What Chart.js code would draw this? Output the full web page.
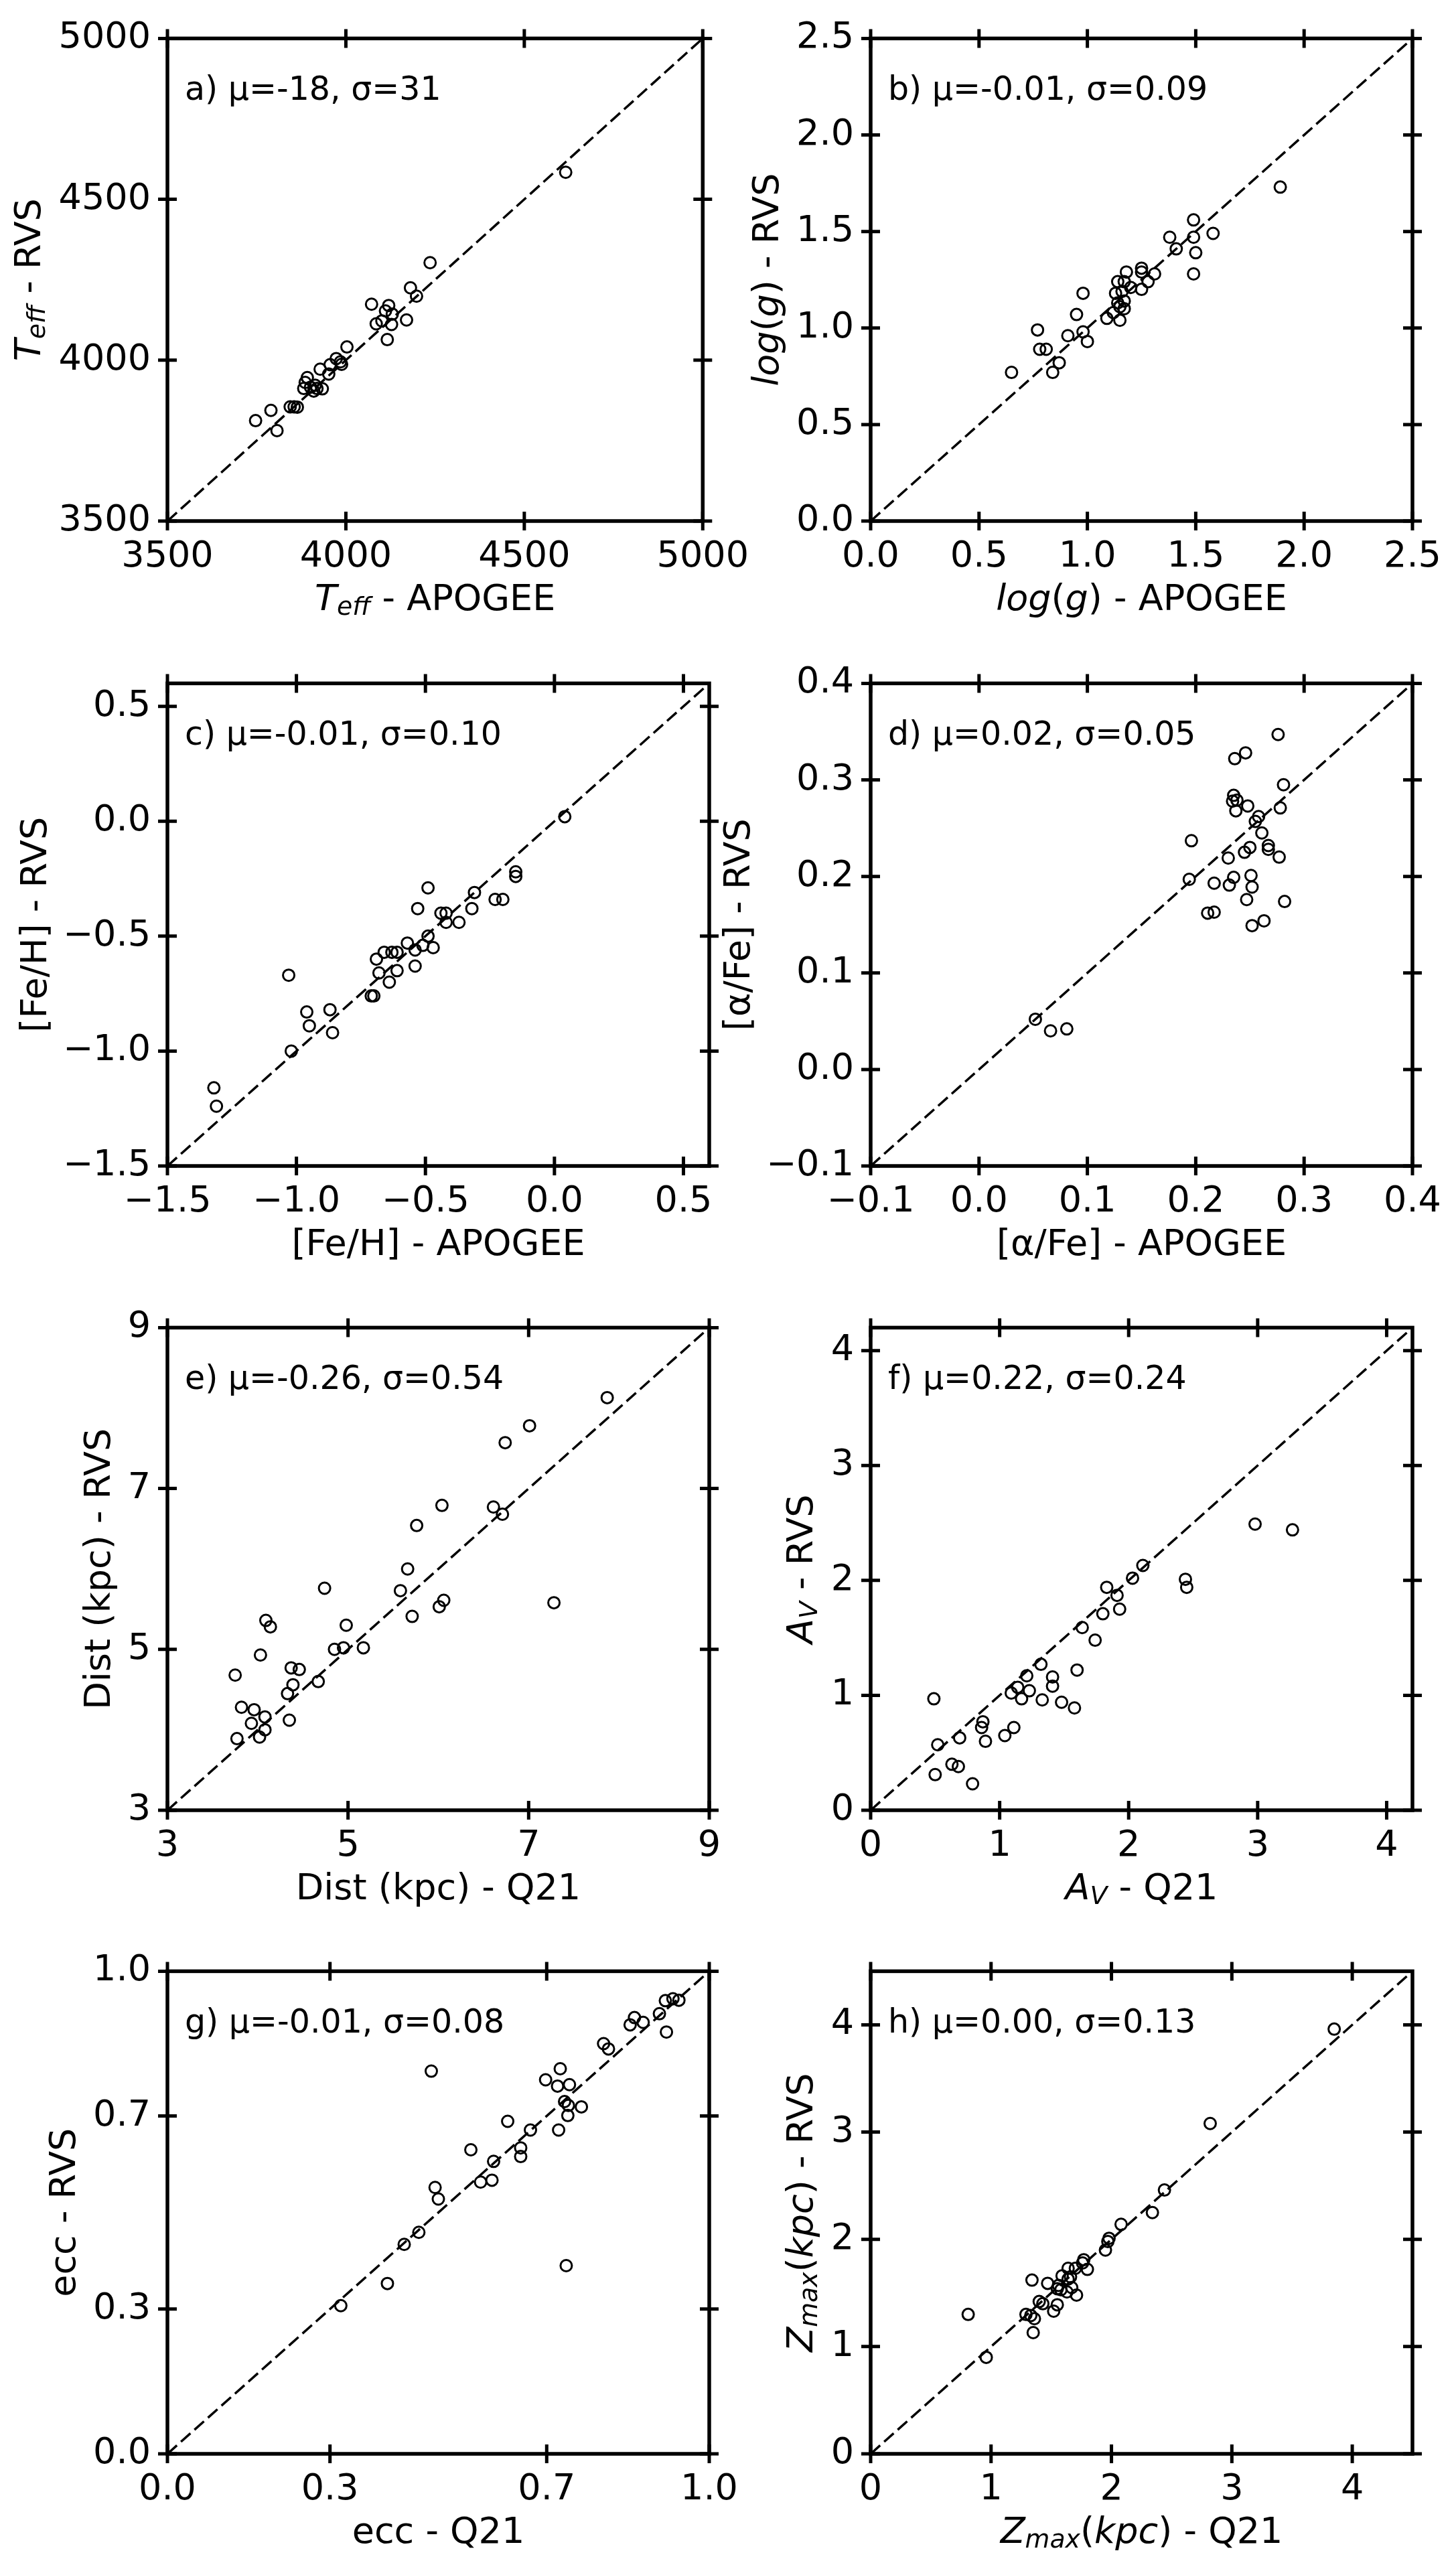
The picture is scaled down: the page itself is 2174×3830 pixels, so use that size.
<!DOCTYPE html>
<html>
<head>
<meta charset="utf-8">
<title>RVS vs APOGEE / Q21</title>
<script src="https://cdn.jsdelivr.net/npm/chart.js@4.4.0/dist/chart.umd.min.js"></script>
<style>
  body { margin: 0; background: #fff; width: 2174px; height: 3830px; position: relative; overflow: hidden; }
  canvas { position: absolute; }
</style>
</head>
<body>
<canvas id="p0"></canvas><canvas id="p1"></canvas>
<canvas id="p2"></canvas><canvas id="p3"></canvas>
<canvas id="p4"></canvas><canvas id="p5"></canvas>
<canvas id="p6"></canvas><canvas id="p7"></canvas>
<script>
// values
const teffApogee = [4616, 4236, 4181, 4198, 4072, 4120, 4111, 4130, 4170, 4101, 4085, 4128, 4116, 4003, 3928, 3956, 3973, 3985, 3988, 3952, 3892, 3886, 3882, 3901, 3914, 3919, 3934, 3910, 3844, 3855, 3864, 3790, 3747, 3807];
const teffRvs    = [4584, 4303, 4225, 4199, 4174, 4170, 4153, 4143, 4125, 4122, 4113, 4111, 4064, 4041, 3972, 3986, 4005, 3995, 3987, 3957, 3946, 3931, 3912, 3916, 3922, 3912, 3911, 3904, 3855, 3855, 3854, 3844, 3812, 3781];

const loggApogee = [1.89, 1.49, 1.49, 1.58, 1.38, 1.41, 1.50, 1.49, 1.25, 1.25, 1.31, 1.28, 1.25, 1.20, 1.18, 1.17, 1.14, 1.16, 1.13, 0.98, 1.17, 1.14, 1.15, 1.17, 1.12, 1.09, 1.15, 0.95, 0.77, 0.98, 0.91, 1.00, 0.78, 0.81, 0.87, 0.84, 0.65];
const loggRvs    = [1.73, 1.56, 1.47, 1.49, 1.47, 1.41, 1.39, 1.28, 1.31, 1.29, 1.28, 1.24, 1.20, 1.21, 1.29, 1.24, 1.24, 1.19, 1.18, 1.18, 1.14, 1.13, 1.11, 1.10, 1.08, 1.05, 1.04, 1.07, 0.99, 0.98, 0.96, 0.93, 0.89, 0.89, 0.82, 0.77, 0.77];

const fehApogee = [0.04, -0.15, -0.15, -0.49, -0.31, -0.23, -0.20, -0.32, -0.53, -0.44, -0.42, -0.42, -0.37, -0.49, -0.51, -0.57, -0.47, -0.54, -0.61, -0.63, -0.66, -0.69, -0.54, -0.61, -0.68, -0.64, -0.71, -0.70, -1.03, -0.96, -0.87, -0.95, -0.86, -1.02, -1.32, -1.31];
const fehRvs    = [0.02, -0.22, -0.24, -0.29, -0.31, -0.34, -0.34, -0.38, -0.38, -0.40, -0.40, -0.44, -0.44, -0.50, -0.54, -0.53, -0.55, -0.56, -0.57, -0.57, -0.57, -0.60, -0.63, -0.65, -0.66, -0.70, -0.76, -0.76, -0.67, -0.83, -0.82, -0.89, -0.92, -1.00, -1.16, -1.24];

const alphaApogee = [0.276, 0.246, 0.236, 0.281, 0.235, 0.234, 0.238, 0.248, 0.237, 0.278, 0.258, 0.255, 0.261, 0.196, 0.250, 0.267, 0.267, 0.245, 0.230, 0.277, 0.251, 0.235, 0.194, 0.217, 0.231, 0.252, 0.247, 0.282, 0.211, 0.217, 0.263, 0.252, 0.052, 0.066, 0.081];
const alphaRvs    = [0.347, 0.328, 0.322, 0.295, 0.284, 0.278, 0.279, 0.273, 0.268, 0.271, 0.262, 0.257, 0.245, 0.237, 0.230, 0.232, 0.228, 0.225, 0.219, 0.220, 0.201, 0.199, 0.197, 0.193, 0.191, 0.189, 0.176, 0.174, 0.162, 0.163, 0.154, 0.149, 0.052, 0.040, 0.042];

const distQ21 = [7.87, 7.01, 6.74, 6.04, 6.61, 6.71, 5.76, 5.66, 4.74, 5.58, 6.06, 6.01, 7.28, 5.71, 4.09, 4.14, 4.98, 5.17, 4.85, 4.95, 4.03, 4.37, 4.46, 3.75, 4.67, 4.39, 4.33, 3.82, 3.96, 4.08, 4.35, 3.93, 4.08, 3.77, 4.02];
const distRvs = [8.13, 7.78, 7.57, 6.79, 6.77, 6.68, 6.54, 6.00, 5.76, 5.73, 5.61, 5.53, 5.58, 5.41, 5.36, 5.28, 5.30, 5.02, 5.00, 5.02, 4.93, 4.77, 4.75, 4.68, 4.60, 4.56, 4.45, 4.28, 4.25, 4.16, 4.12, 4.08, 4.00, 3.89, 3.91];

const avQ21 = [2.98, 3.27, 2.11, 2.03, 2.44, 2.45, 1.83, 1.91, 1.93, 1.80, 1.64, 1.74, 1.32, 1.60, 1.21, 1.41, 1.41, 1.14, 1.23, 1.09, 1.17, 1.33, 1.48, 1.58, 0.49, 0.87, 0.86, 1.11, 1.04, 0.69, 0.89, 0.52, 0.63, 0.68, 0.50, 0.79];
const avRvs = [2.49, 2.44, 2.13, 2.02, 2.01, 1.94, 1.94, 1.87, 1.75, 1.71, 1.59, 1.48, 1.27, 1.22, 1.17, 1.16, 1.08, 1.07, 1.04, 1.02, 0.97, 0.96, 0.94, 0.89, 0.97, 0.77, 0.72, 0.72, 0.65, 0.63, 0.60, 0.57, 0.40, 0.38, 0.31, 0.23];

const eccQ21 = [0.944, 0.933, 0.919, 0.908, 0.921, 0.862, 0.854, 0.878, 0.805, 0.814, 0.725, 0.487, 0.698, 0.720, 0.742, 0.733, 0.740, 0.764, 0.739, 0.628, 0.670, 0.722, 0.652, 0.560, 0.652, 0.602, 0.599, 0.578, 0.494, 0.500, 0.464, 0.437, 0.736, 0.406, 0.320];
const eccRvs = [0.940, 0.943, 0.939, 0.912, 0.874, 0.904, 0.889, 0.894, 0.850, 0.839, 0.798, 0.793, 0.775, 0.762, 0.765, 0.730, 0.722, 0.719, 0.701, 0.689, 0.671, 0.671, 0.634, 0.630, 0.616, 0.606, 0.567, 0.563, 0.552, 0.528, 0.459, 0.434, 0.390, 0.353, 0.307];

const zmaxQ21 = [3.85, 2.82, 2.44, 2.34, 2.08, 1.98, 1.97, 1.95, 1.77, 1.76, 1.80, 1.70, 1.64, 1.59, 1.66, 1.64, 1.47, 1.34, 1.56, 1.58, 1.67, 1.63, 1.71, 1.55, 1.40, 1.43, 1.55, 1.52, 1.29, 1.33, 1.36, 1.35, 0.81, 0.96];
const zmaxRvs = [3.96, 3.08, 2.46, 2.25, 2.14, 2.01, 1.98, 1.90, 1.81, 1.78, 1.72, 1.73, 1.73, 1.66, 1.65, 1.63, 1.59, 1.62, 1.57, 1.53, 1.55, 1.51, 1.48, 1.54, 1.42, 1.40, 1.39, 1.33, 1.30, 1.29, 1.26, 1.13, 1.30, 0.90];

// axes
const axisMin = [3500, 0, -1.5, -0.1, 3, 0, 0, 0];
const axisMax = [5000, 2.5, 0.6, 0.4, 9, 4.2, 1.0, 4.5];
const tickValues = [
  [3500, 4000, 4500, 5000],
  [0, 0.5, 1, 1.5, 2, 2.5],
  [-1.5, -1, -0.5, 0, 0.5],
  [-0.1, 0, 0.1, 0.2, 0.3, 0.4],
  [3, 5, 7, 9],
  [0, 1, 2, 3, 4],
  [0, 0.3, 0.7, 1.0],
  [0, 1, 2, 3, 4]
];
const tickLabels = [
  ['3500', '4000', '4500', '5000'],
  ['0.0', '0.5', '1.0', '1.5', '2.0', '2.5'],
  ['\u22121.5', '\u22121.0', '\u22120.5', '0.0', '0.5'],
  ['\u22120.1', '0.0', '0.1', '0.2', '0.3', '0.4'],
  ['3', '5', '7', '9'],
  ['0', '1', '2', '3', '4'],
  ['0.0', '0.3', '0.7', '1.0'],
  ['0', '1', '2', '3', '4']
];
const notes = [
  'a) \u03bc=-18, \u03c3=31',
  'b) \u03bc=-0.01, \u03c3=0.09',
  'c) \u03bc=-0.01, \u03c3=0.10',
  'd) \u03bc=0.02, \u03c3=0.05',
  'e) \u03bc=-0.26, \u03c3=0.54',
  'f) \u03bc=0.22, \u03c3=0.24',
  'g) \u03bc=-0.01, \u03c3=0.08',
  'h) \u03bc=0.00, \u03c3=0.13'
];
// axis titles: [text, style] with '' upright, 'i' italic, 's' italic subscript
const xTitles = [
  [['T', 'i'], ['eff', 's'], [' - APOGEE', '']],
  [['log', 'i'], ['(', ''], ['g', 'i'], [')', ''], [' - APOGEE', '']],
  [['[Fe/H] - APOGEE', '']],
  [['[\u03b1/Fe] - APOGEE', '']],
  [['Dist (kpc) - Q21', '']],
  [['A', 'i'], ['V', 's'], [' - Q21', '']],
  [['ecc - Q21', '']],
  [['Z', 'i'], ['max', 's'], ['(', ''], ['kpc', 'i'], [')', ''], [' - Q21', '']]
];
const yTitles = [
  [['T', 'i'], ['eff', 's'], [' - RVS', '']],
  [['log', 'i'], ['(', ''], ['g', 'i'], [')', ''], [' - RVS', '']],
  [['[Fe/H] - RVS', '']],
  [['[\u03b1/Fe] - RVS', '']],
  [['Dist (kpc) - RVS', '']],
  [['A', 'i'], ['V', 's'], [' - RVS', '']],
  [['ecc - RVS', '']],
  [['Z', 'i'], ['max', 's'], ['(', ''], ['kpc', 'i'], [')', ''], [' - RVS', '']]
];

const xSeries = [teffApogee, loggApogee, fehApogee, alphaApogee, distQ21, avQ21, eccQ21, zmaxQ21];
const ySeries = [teffRvs, loggRvs, fehRvs, alphaRvs, distRvs, avRvs, eccRvs, zmaxRvs];

// layout (page pixels)
const colLeft = [250, 1300];
const rowTop = [38, 1001, 1963, 2924];
const plotW = 809, plotH = 740;
const padL = 250, padT = 38, canvasH = 928;
const canvasW = [1140, 1124];
const Y_TICK_PAD = 25;

const FONT = 'DejaVu Sans';
const TICK_SIZE = 54, TITLE_SIZE = 54, NOTE_SIZE = 49;
const SUB_SCALE = 0.7, SUB_SHIFT = 0.13;

function segFont(style, size) {
  const s = style === 's' ? size * SUB_SCALE : size;
  return (style ? 'italic ' : '') + s.toFixed(1) + 'px "' + FONT + '"';
}
function measureRich(ctx, segs, size) {
  let w = 0, desc = 0;
  segs.forEach(([t, st]) => {
    ctx.font = segFont(st, size);
    const m = ctx.measureText(t);
    w += m.width;
    desc = Math.max(desc, m.actualBoundingBoxDescent + (st === 's' ? size * SUB_SHIFT : 0));
  });
  ctx.font = segFont('', size);
  desc = Math.max(desc, ctx.measureText('lp').actualBoundingBoxDescent);
  return { w, desc };
}
function drawRich(ctx, segs, size, x0, y0) {
  let x = x0;
  segs.forEach(([t, st]) => {
    ctx.font = segFont(st, size);
    ctx.fillText(t, x, y0 + (st === 's' ? size * SUB_SHIFT : 0));
    x += ctx.measureText(t).width;
  });
}

function framePlugin(i) {
  return {
    id: 'frame' + i,
    afterDatasetsDraw(chart) {
      const { ctx, chartArea: a, scales: { x, y } } = chart;
      const tl = 14;
      ctx.save();
      ctx.strokeStyle = '#000';
      ctx.lineWidth = 5.5;
      ctx.strokeRect(a.left, a.top, a.right - a.left, a.bottom - a.top);
      ctx.lineWidth = 5;
      ctx.beginPath();
      x.ticks.forEach(t => {
        const p = x.getPixelForValue(t.value);
        ctx.moveTo(p, a.bottom - tl); ctx.lineTo(p, a.bottom + tl);
        ctx.moveTo(p, a.top - tl); ctx.lineTo(p, a.top + tl);
      });
      y.ticks.forEach(t => {
        const p = y.getPixelForValue(t.value);
        ctx.moveTo(a.left - tl, p); ctx.lineTo(a.left + tl, p);
        ctx.moveTo(a.right - tl, p); ctx.lineTo(a.right + tl, p);
      });
      ctx.stroke();
      ctx.restore();
    },
    afterDraw(chart) {
      const { ctx, chartArea: a } = chart;
      ctx.save();
      ctx.fillStyle = '#000';
      ctx.textAlign = 'left';
      ctx.textBaseline = 'alphabetic';
      // panel note
      ctx.font = NOTE_SIZE + 'px "' + FONT + '"';
      ctx.fillText(notes[i], a.left + 26, a.top + 92);
      // x title
      const xm = measureRich(ctx, xTitles[i], TITLE_SIZE);
      drawRich(ctx, xTitles[i], TITLE_SIZE, (a.left + a.right) / 2 - xm.w / 2, a.bottom + 133);
      // y title, placed left of the widest tick label ink
      ctx.font = TICK_SIZE + 'px "' + FONT + '"';
      let inkLeft = a.left;
      tickLabels[i].forEach(s => {
        const m = ctx.measureText(s);
        const x0 = a.left - Y_TICK_PAD - m.width;
        inkLeft = Math.min(inkLeft, x0 - m.actualBoundingBoxLeft);
      });
      const ym = measureRich(ctx, yTitles[i], TITLE_SIZE);
      ctx.translate(inkLeft - 19 - ym.desc, (a.top + a.bottom) / 2);
      ctx.rotate(-Math.PI / 2);
      drawRich(ctx, yTitles[i], TITLE_SIZE, -ym.w / 2, 0);
      ctx.restore();
    }
  };
}

function axisOptions(i, isX) {
  return {
    type: 'linear',
    min: axisMin[i],
    max: axisMax[i],
    afterBuildTicks: s => { s.ticks = tickValues[i].map(v => ({ value: v })); },
    afterFit: s => {
      if (isX) s.height = canvasH - padT - plotH;
      else s.width = padL;
    },
    ticks: {
      autoSkip: false,
      maxRotation: 0,
      minRotation: 0,
      padding: isX ? 22 : Y_TICK_PAD,
      color: '#000',
      font: { family: FONT, size: TICK_SIZE },
      callback: (v, idx) => tickLabels[i][idx]
    },
    grid: { display: false, drawTicks: false },
    border: { display: false }
  };
}

for (let i = 0; i < 8; i++) {
  const col = i % 2, row = Math.floor(i / 2);
  const cv = document.getElementById('p' + i);
  cv.width = canvasW[col];
  cv.height = canvasH;
  cv.style.left = (colLeft[col] - padL) + 'px';
  cv.style.top = (rowTop[row] - padT) + 'px';

  const pts = xSeries[i].map((v, k) => ({ x: v, y: ySeries[i][k] }));
  const diag = [{ x: axisMin[i], y: axisMin[i] }, { x: axisMax[i], y: axisMax[i] }];

  new Chart(cv.getContext('2d'), {
    type: 'scatter',
    data: {
      datasets: [
        {
          type: 'line',
          data: diag,
          borderColor: '#000',
          borderWidth: 3.5,
          borderDash: [19, 8],
          pointRadius: 0,
          fill: false
        },
        {
          data: pts,
          pointStyle: 'circle',
          pointRadius: 8.5,
          pointBorderWidth: 3,
          borderColor: '#000',
          backgroundColor: 'rgba(0,0,0,0)'
        }
      ]
    },
    options: {
      responsive: false,
      animation: false,
      devicePixelRatio: 1,
      layout: { padding: { left: 0, top: padT, right: canvasW[col] - padL - plotW, bottom: 0 } },
      plugins: { legend: { display: false }, tooltip: { enabled: false } },
      scales: { x: axisOptions(i, true), y: axisOptions(i, false) }
    },
    plugins: [framePlugin(i)]
  });
}
</script>
</body>
</html>
